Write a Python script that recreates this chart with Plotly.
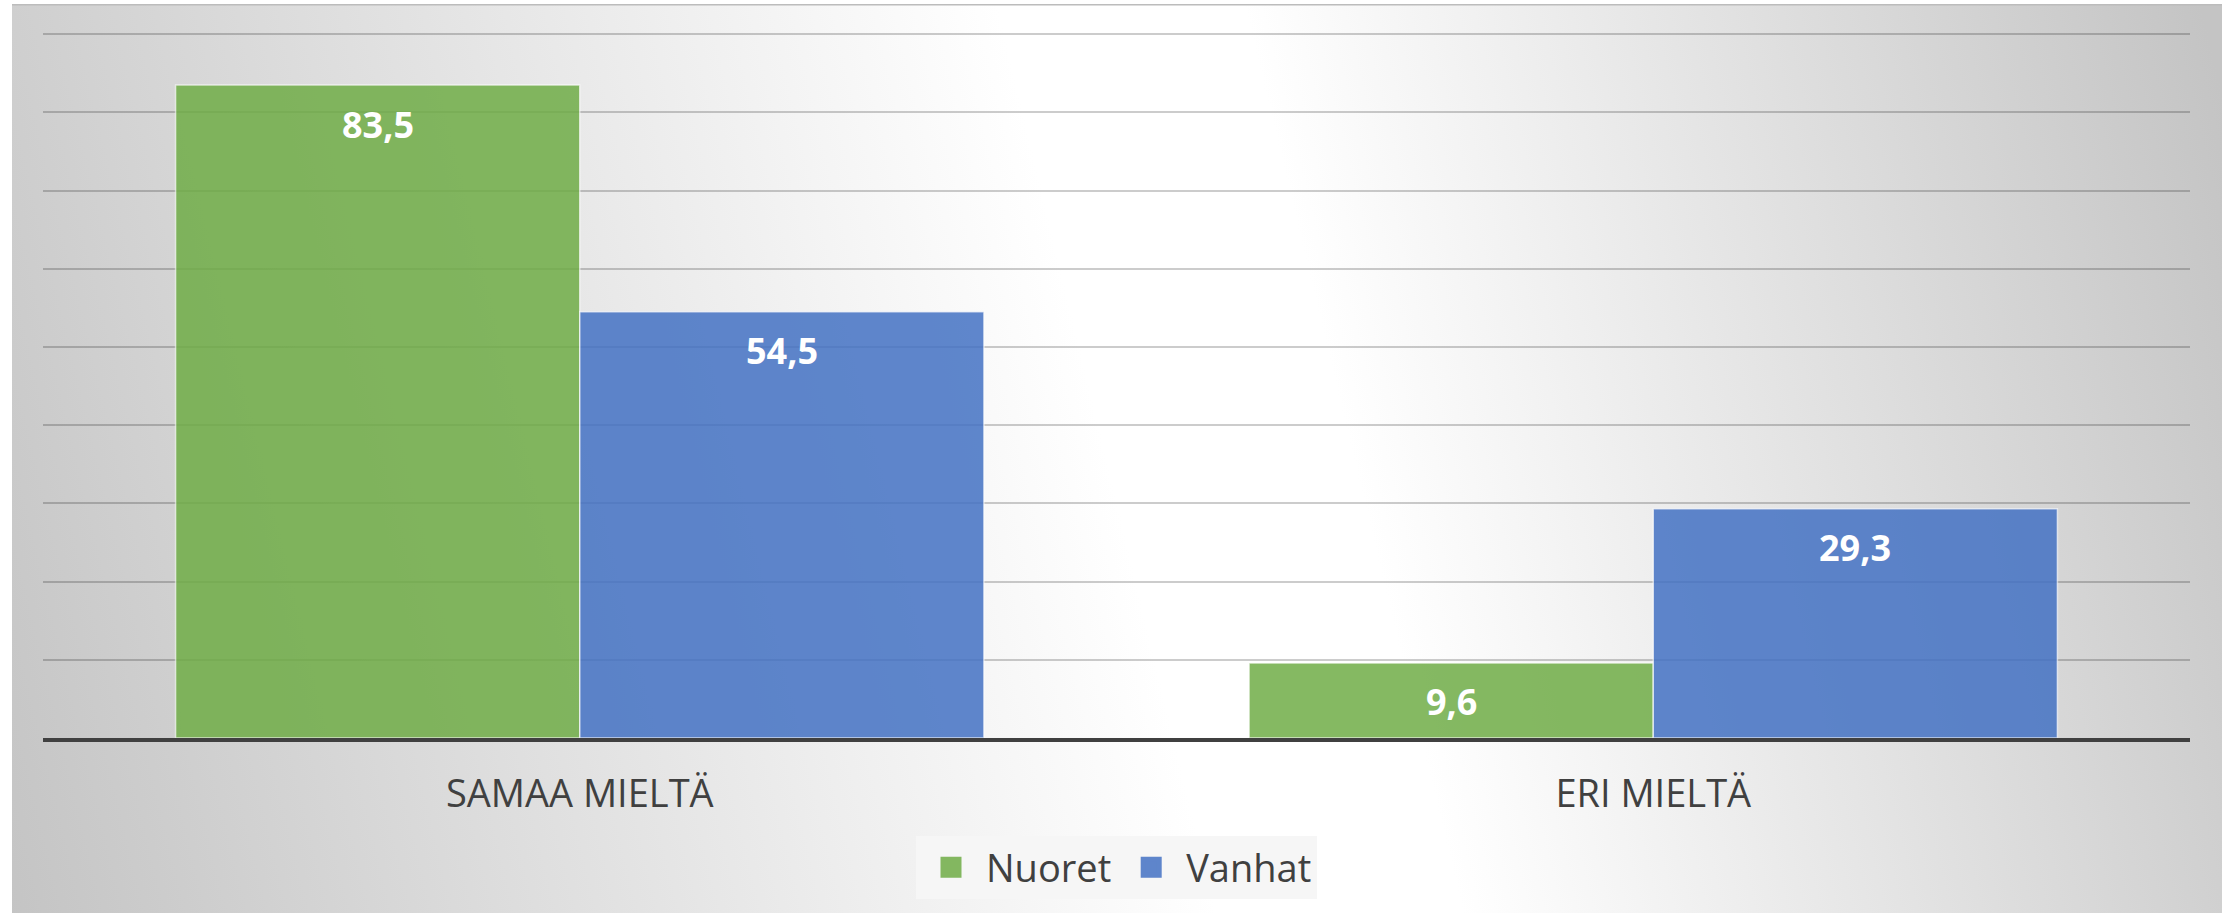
import base64
import plotly.graph_objects as go

categories = ["SAMAA MIELTÄ", "ERI MIELTÄ"]
nuoret = [83.5, 9.6]
vanhat = [54.5, 29.3]
series_names = ["Nuoret", "Vanhat"]
series_colors = ["#70AD47", "#4472C4"]

W, H = 2233, 913
ML, MR, MT, MB = 43, 43, 33, 175
BARGAP = 0.247
YMAX = 90.15
plot_w = W - ML - MR
plot_h = H - MT - MB

# background: tilted linear gradient grey-white-grey (chart area box)
bx0, by0, bx1, by1 = 12, 4, 2222, 913
bw, bh = bx1 - bx0, by1 - by0
nx, ny = 0.972, -0.234
cx, cy = 1230 - bx0, 456 - by0
p0 = (cx - 1300 * nx, cy - 1300 * ny)
p1 = (cx + 1050 * nx, cy + 1050 * ny)
t_w0 = 1180 / 2350
t_w1 = 1420 / 2350
svg = f'''<svg xmlns="http://www.w3.org/2000/svg" width="{bw}" height="{bh}" viewBox="0 0 {bw} {bh}" preserveAspectRatio="none">
<defs><linearGradient id="g" gradientUnits="userSpaceOnUse" x1="{p0[0]:.1f}" y1="{p0[1]:.1f}" x2="{p1[0]:.1f}" y2="{p1[1]:.1f}">
<stop offset="0" stop-color="#c4c4c4"/><stop offset="{t_w0:.3f}" stop-color="#ffffff"/>
<stop offset="{t_w1:.3f}" stop-color="#ffffff"/><stop offset="1" stop-color="#c4c4c4"/></linearGradient></defs>
<rect x="0" y="0" width="{bw}" height="{bh}" fill="url(#g)"/>
<line x1="0" y1="0.75" x2="{bw}" y2="0.75" stroke="#bcbcbc" stroke-width="1.5"/>
</svg>'''
src = "data:image/svg+xml;base64," + base64.b64encode(svg.encode()).decode()

fig = go.Figure()
for name, vals, col in zip(series_names, [nuoret, vanhat], series_colors):
    fig.add_trace(go.Bar(
        x=categories, y=vals, name=name, showlegend=False,
        marker=dict(color=col, opacity=0.85,
                    line=dict(color="rgba(255,255,255,0.7)", width=1.5)),
        hoverinfo="skip",
    ))
# legend proxies (larger square symbols)
for name, col in zip(series_names, series_colors):
    fig.add_trace(go.Scatter(
        x=[None], y=[None], mode="markers", name=name,
        marker=dict(symbol="square", size=16, color=col, opacity=0.85,
                    line=dict(color=col, width=5)),
    ))

# data labels
cat_px = plot_w / len(categories)
bar_px = (1 - BARGAP) * cat_px / 2
for si, vals in enumerate([nuoret, vanhat]):
    shift = (si - 0.5) * bar_px
    for c, v in zip(categories, vals):
        fig.add_annotation(
            x=c, y=v, xref="x", yref="y", text=f"{v:.1f}".replace(".", ","),
            showarrow=False, xshift=shift, yshift=-39, yanchor="middle",
            font=dict(family="Open Sans", size=36, color="white", weight="bold"),
        )

fig.update_layout(
    width=W, height=H,
    margin=dict(l=ML, r=MR, t=MT, b=MB, pad=0),
    paper_bgcolor="white", plot_bgcolor="rgba(0,0,0,0)",
    barmode="group", bargap=BARGAP, bargroupgap=0,
    font=dict(family="Open Sans", color="#404040"),
    images=[dict(
        source=src, xref="paper", yref="paper",
        x=(bx0 - ML) / plot_w, y=(H - MB - by0) / plot_h,
        sizex=bw / plot_w, sizey=bh / plot_h,
        xanchor="left", yanchor="top", sizing="stretch", layer="below",
    )],
    xaxis=dict(showline=True, linecolor="#404040", linewidth=3.5,
               showgrid=False, ticks="", tickfont=dict(size=38, color="#404040"),
               ticklabelstandoff=20),
    yaxis=dict(range=[0, YMAX], dtick=10, showticklabels=False, zeroline=False,
               showgrid=True, gridcolor="rgba(0,0,0,0.2)", gridwidth=2),
    legend=dict(orientation="h", x=0.5, xanchor="center",
                y=(H - MB - 836) / plot_h, yanchor="top",
                bgcolor="#f6f6f6", font=dict(size=38, color="#404040"),
                itemsizing="trace", itemwidth=60),
    showlegend=True,
)

fig.write_html("out.html", config={"displayModeBar": False},
               post_script="document.body.style.margin='0';")
